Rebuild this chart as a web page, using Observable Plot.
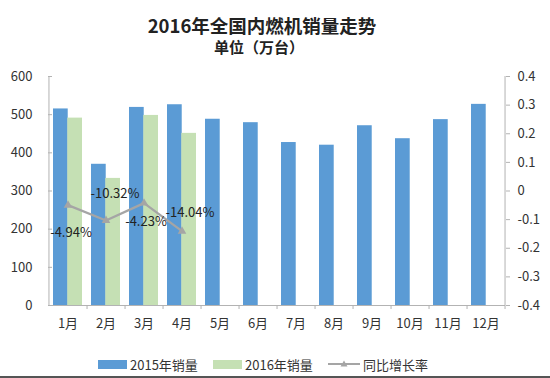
<!DOCTYPE html>
<html>
<head>
<meta charset="utf-8">
<script src="https://cdn.jsdelivr.net/npm/d3@7"></script>
<script src="https://cdn.jsdelivr.net/npm/@observablehq/plot@0.6"></script>
<style>
  body { margin: 0; background: #fff; font-family: "Noto Sans CJK SC", "Noto Sans", sans-serif; color: #222; }
  #wrap { width: 550px; height: 378px; position: relative; overflow: hidden; }
  #head { height: 60px; text-align: center; }
  #title { position: absolute; left: 0; width: 524px; top: 12px; font-size: 18.5px; font-weight: bold; line-height: 26px; }
  #subtitle { position: absolute; left: 0; width: 518px; top: 37px; font-size: 15px; font-weight: bold; line-height: 20px; }
  #legend { position: absolute; top: 355px; left: 0; width: 550px; height: 18px; font-size: 13px; color: #333; }
  .item { position: absolute; top: 0; display: flex; align-items: center; height: 18px; }
  .sw { width: 29px; height: 9px; margin-right: 3px; }
  #border { position: absolute; left: 0; top: 376px; width: 550px; height: 2px; background: #555; }
</style>
</head>
<body>
<div id="wrap">
  <div id="head">
    <div id="title">2016年全国内燃机销量走势</div>
    <div id="subtitle">单位（万台）</div>
  </div>
  <div id="chart"></div>
  <div id="legend"></div>
  <div id="border"></div>
</div>
<script>
const months = ["1月","2月","3月","4月","5月","6月","7月","8月","9月","10月","11月","12月"];
const sales2015 = [515, 370, 519, 526, 488, 479, 427, 420, 471, 437, 487, 527];
const sales2016 = [491, 333, 498, 451];
const growth = [-0.0494, -0.1032, -0.0423, -0.1404];
const growthLabels = ["-4.94%", "-10.32%", "-4.23%", "-14.04%"];
const leftTicks = [0, 100, 200, 300, 400, 500, 600];
const rightTicks = [-0.4, -0.3, -0.2, -0.1, 0, 0.1, 0.2, 0.3, 0.4];
const seriesNames = ["2015年销量", "2016年销量", "同比增长率"];

// label placement (styling only)
const labelPlacement = [
  {dx: 3, dy: 28}, {dx: 9, dy: -27}, {dx: 2, dy: 19}, {dx: 8, dy: -18}
];

const blue = "#5b9bd5", green = "#c5e0b4", gray = "#a5a5a5", axisGray = "#b3b3b3";
const W = 550, H = 280, mL = 48, mR = 45, mT = 16, mB = 35;
const step = (W - mL - mR) / months.length;
const bw = step * 0.75;

// map growth rate (right axis, -0.4..0.4) onto left axis domain (0..600)
const g2y = g => (g + 0.4) * 750;
const y2g = y => y / 750 - 0.4;

const d15 = months.map((m, i) => ({month: m, value: sales2015[i]}));
const d16 = sales2016.map((v, i) => ({month: months[i], value: v}));
const dg = growth.map((g, i) => ({month: months[i], g, y: g2y(g), label: growthLabels[i]}));

const fmtRight = d => { const v = Math.round(y2g(d) * 10) / 10; return v === 0 ? "0" : String(v); };

const chart = Plot.plot({
  width: W, height: H,
  marginLeft: mL, marginRight: mR, marginTop: mT, marginBottom: mB,
  style: {fontFamily: "\"Noto Sans CJK SC\", sans-serif", fontSize: "13px", color: "#333", background: "#fff"},
  x: {domain: months, paddingInner: 0.25, paddingOuter: 0.125, axis: null, label: null},
  y: {domain: [0, 600], axis: null, label: null},
  marks: [
    Plot.barY(d15, {x: "month", y: "value", fill: blue, insetRight: bw / 2}),
    Plot.barY(d16, {x: "month", y: "value", fill: green, insetLeft: bw / 2}),
    // axis lines
    Plot.ruleY([0], {stroke: axisGray}),
    Plot.ruleX([months[0]], {x: d => d, y1: 0, y2: 600, dx: -step / 2, stroke: axisGray}),
    Plot.ruleX([months[months.length - 1]], {x: d => d, y1: 0, y2: 600, dx: step / 2, stroke: axisGray}),
    // left axis
    Plot.axisY({anchor: "left", ticks: leftTicks, tickSize: 0, tickPadding: 16, fontSize: 13, fill: "#333", label: null}),
    Plot.axisY({anchor: "left", ticks: leftTicks, tickSize: -4, text: null, stroke: axisGray, label: null}),
    // right axis
    Plot.axisY({anchor: "right", ticks: rightTicks.map(g2y), tickFormat: fmtRight, tickSize: 4, tickPadding: 8, stroke: axisGray, fill: "#333", fontSize: 13, label: null}),
    // x axis
    Plot.axisX({ticks: months, tickSize: 0, tickPadding: 13, fontSize: 13, fill: "#333", label: null}),
    Plot.axisX({ticks: months, tickSize: 4, text: null, dx: step / 2, stroke: axisGray, label: null}),
    // growth line
    Plot.line(dg, {x: "month", y: "y", stroke: gray, strokeWidth: 2.25}),
    Plot.dot(dg, {x: "month", y: "y", symbol: "triangle", r: 3.2, fill: gray, stroke: "none"}),
    ...dg.map((d, i) => Plot.text([d], {x: "month", y: "y", text: "label", dx: labelPlacement[i].dx, dy: labelPlacement[i].dy, fontSize: 13, fill: "#222"}))
  ]
});
document.getElementById("chart").appendChild(chart);

// legend
const legend = document.getElementById("legend");
const items = [
  {left: 98, html: `<div class="sw" style="background:${blue}"></div><span>${seriesNames[0]}</span>`},
  {left: 213, html: `<div class="sw" style="background:${green}"></div><span>${seriesNames[1]}</span>`},
  {left: 328, html: `<svg width="32" height="10" style="margin-right:3px"><line x1="0" y1="5" x2="32" y2="5" stroke="${gray}" stroke-width="2"/><path d="M16,1.5 L19.5,7.5 L12.5,7.5Z" fill="${gray}"/></svg><span>${seriesNames[2]}</span>`}
];
for (const it of items) {
  const el = document.createElement("div");
  el.className = "item";
  el.style.left = it.left + "px";
  el.innerHTML = it.html;
  legend.appendChild(el);
}
</script>
</body>
</html>
